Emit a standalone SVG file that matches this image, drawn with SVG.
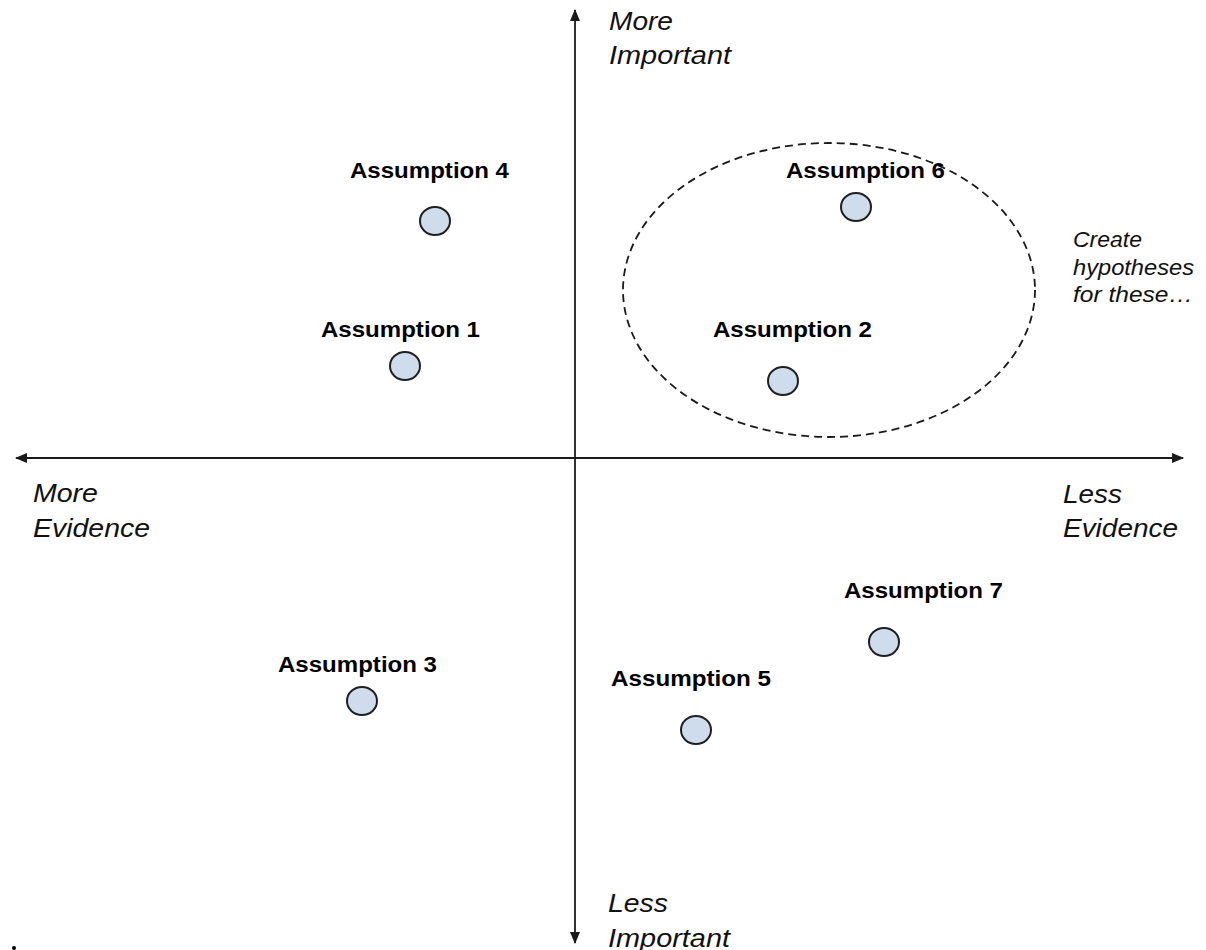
<svg xmlns="http://www.w3.org/2000/svg" width="1206" height="950" viewBox="0 0 1206 950">
  <style>
    .axis { stroke: #1a1a1a; stroke-width: 1.8; fill: none; }
    .dot { fill: #cfdcec; stroke: #1f1f1f; stroke-width: 2; }
    .label { font-family: "Liberation Sans", Arial, sans-serif; font-weight: bold; font-size: 22px; fill: #000; }
    .axis-label { font-family: "Liberation Sans", Arial, sans-serif; font-style: italic; font-size: 26px; fill: #111; }
    .note { font-family: "Liberation Sans", Arial, sans-serif; font-style: italic; font-size: 22px; fill: #111; }
    .group-ring { fill: none; stroke: #1a1a1a; stroke-width: 1.8; stroke-dasharray: 8 5; }
  </style>
  <defs>
    <marker id="arrow" viewBox="0 0 12 10" refX="11" refY="5" markerWidth="12" markerHeight="10" markerUnits="userSpaceOnUse" orient="auto">
      <path d="M0,0 L12,5 L0,10 Z" fill="#1a1a1a"/>
    </marker>
  </defs>

  <rect width="1206" height="950" fill="#ffffff"/>

  <!-- axes -->
  <g id="connectors">
    <line class="axis" x1="575" y1="458" x2="575" y2="10" marker-end="url(#arrow)"/>
    <line class="axis" x1="575" y1="458" x2="575" y2="943" marker-end="url(#arrow)"/>
    <line class="axis" x1="575" y1="458" x2="16" y2="458" marker-end="url(#arrow)"/>
    <line class="axis" x1="575" y1="458" x2="1183" y2="458" marker-end="url(#arrow)"/>
  </g>

  <!-- axis labels -->
  <g id="axis-labels">
    <text class="axis-label" x="609" y="30" textLength="64" lengthAdjust="spacingAndGlyphs">More</text>
    <text class="axis-label" x="609" y="64" textLength="122" lengthAdjust="spacingAndGlyphs">Important</text>
    <text class="axis-label" x="33" y="502" textLength="65" lengthAdjust="spacingAndGlyphs">More</text>
    <text class="axis-label" x="33" y="537" textLength="117" lengthAdjust="spacingAndGlyphs">Evidence</text>
    <text class="axis-label" x="1063" y="503" textLength="59" lengthAdjust="spacingAndGlyphs">Less</text>
    <text class="axis-label" x="1063" y="537" textLength="115" lengthAdjust="spacingAndGlyphs">Evidence</text>
    <text class="axis-label" x="608" y="912" textLength="60" lengthAdjust="spacingAndGlyphs">Less</text>
    <text class="axis-label" x="608" y="947" textLength="122" lengthAdjust="spacingAndGlyphs">Important</text>
  </g>

  <!-- grouping ring -->
  <g id="focus-group">
    <ellipse class="group-ring" cx="829" cy="290" rx="206" ry="147"/>
    <text class="note" x="1073" y="247" textLength="69" lengthAdjust="spacingAndGlyphs">Create</text>
    <text class="note" x="1073" y="275" textLength="121" lengthAdjust="spacingAndGlyphs">hypotheses</text>
    <text class="note" x="1073" y="302" textLength="120" lengthAdjust="spacingAndGlyphs">for these…</text>
  </g>

  <!-- assumptions -->
  <g id="assumption-4">
    <text class="label" x="350" y="178" textLength="159" lengthAdjust="spacingAndGlyphs">Assumption 4</text>
    <ellipse class="dot" cx="435" cy="221" rx="15" ry="14"/>
  </g>
  <g id="assumption-1">
    <text class="label" x="321" y="337" textLength="159" lengthAdjust="spacingAndGlyphs">Assumption 1</text>
    <ellipse class="dot" cx="405" cy="366" rx="15" ry="14"/>
  </g>
  <g id="assumption-6">
    <text class="label" x="786" y="178" textLength="159" lengthAdjust="spacingAndGlyphs">Assumption 6</text>
    <ellipse class="dot" cx="856" cy="207" rx="15" ry="14"/>
  </g>
  <g id="assumption-2">
    <text class="label" x="713" y="337" textLength="159" lengthAdjust="spacingAndGlyphs">Assumption 2</text>
    <ellipse class="dot" cx="783" cy="381" rx="15" ry="14"/>
  </g>
  <g id="assumption-7">
    <text class="label" x="844" y="598" textLength="159" lengthAdjust="spacingAndGlyphs">Assumption 7</text>
    <ellipse class="dot" cx="884" cy="642" rx="15" ry="14"/>
  </g>
  <g id="assumption-3">
    <text class="label" x="278" y="672" textLength="159" lengthAdjust="spacingAndGlyphs">Assumption 3</text>
    <ellipse class="dot" cx="362" cy="701" rx="15" ry="14"/>
  </g>
  <g id="assumption-5">
    <text class="label" x="611" y="686" textLength="160" lengthAdjust="spacingAndGlyphs">Assumption 5</text>
    <ellipse class="dot" cx="696" cy="730" rx="15" ry="14"/>
  </g>

  <!-- stray mark -->
  <circle cx="14" cy="948" r="2" fill="#000"/>
</svg>
